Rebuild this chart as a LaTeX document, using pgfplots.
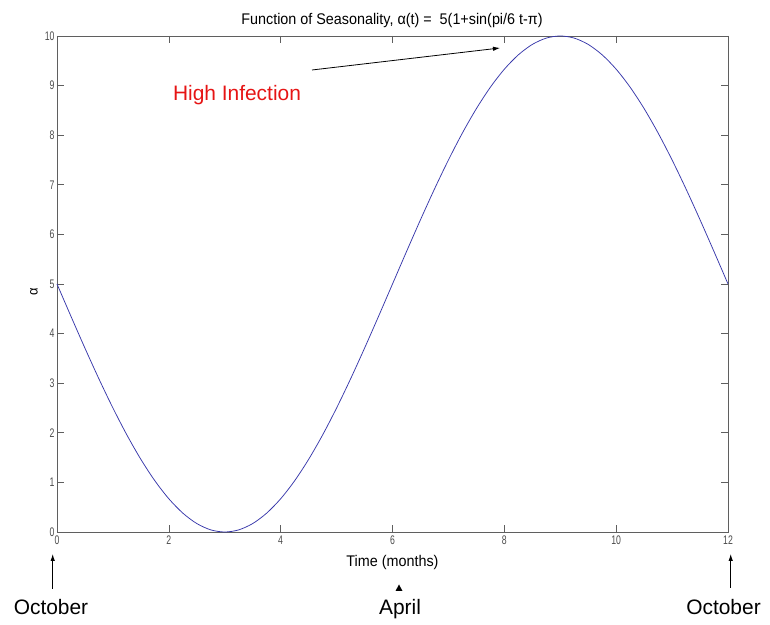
\documentclass[border=0pt]{standalone}
\usepackage{fontspec}
\setmainfont{Liberation Sans}
\newfontfamily\narrowfont[FakeStretch=0.93]{Liberation Sans}
\newfontfamily\ticknarrow[FakeStretch=0.7]{Liberation Sans}
\usepackage{pgfplots}
\pgfplotsset{compat=1.18}
\usetikzlibrary{arrows.meta}
\definecolor{curveblue}{RGB}{55,55,170}
\definecolor{axgray}{RGB}{95,95,95}
\definecolor{hired}{RGB}{230,20,20}
\begin{document}
\begin{tikzpicture}[x=1bp,y=1bp]
\path[use as bounding box] (0,0) rectangle (770,625);
\begin{axis}[
  at={(57bp,93bp)}, anchor=south west,
  scale only axis, width=671bp, height=496bp,
  xmin=0, xmax=12, ymin=0, ymax=10,
  xtick={0,2,4,6,8,10,12},
  ytick={0,1,2,3,4,5,6,7,8,9,10},
  tick align=inside,
  major tick length=7bp,
  axis line style={axgray, line width=0.7bp},
  every tick/.style={axgray, line width=0.6bp},
  /pgf/number format/assume math mode=true,
  ticklabel style={font=\ticknarrow\fontsize{12.5}{12.5}\selectfont, text=black!70},
  yticklabel style={xshift=1bp},
  xticklabel style={yshift=0bp},
  xlabel={Time (months)},
  xlabel style={at={(axis description cs:0.5,0)}, anchor=base, yshift=-35bp, font=\narrowfont\fontsize{15.5}{16}\selectfont},
  ylabel={α},
  ylabel style={at={(axis description cs:-0.0343,0.4839)}, anchor=center, font=\narrowfont\fontsize{14}{14}\selectfont},
  clip=false,
]
\addplot[curveblue, line width=0.75bp, smooth] coordinates {
(0,5) (0.25,4.3474) (0.5,3.7059) (0.75,3.0866) (1,2.5) (1.25,1.9562)
(1.5,1.4645) (1.75,1.0332) (2,0.6699) (2.25,0.3806) (2.5,0.1704) (2.75,0.0428)
(3,0) (3.25,0.0428) (3.5,0.1704) (3.75,0.3806) (4,0.6699) (4.25,1.0332)
(4.5,1.4645) (4.75,1.9562) (5,2.5) (5.25,3.0866) (5.5,3.7059) (5.75,4.3474)
(6,5) (6.25,5.6526) (6.5,6.2941) (6.75,6.9134) (7,7.5) (7.25,8.0438)
(7.5,8.5355) (7.75,8.9668) (8,9.3301) (8.25,9.6194) (8.5,9.8296) (8.75,9.9572)
(9,10) (9.25,9.9572) (9.5,9.8296) (9.75,9.6194) (10,9.3301) (10.25,8.9668)
(10.5,8.5355) (10.75,8.0438) (11,7.5) (11.25,6.9134) (11.5,6.2941) (11.75,5.6526)
(12,5)
};
\end{axis}
% title
\node[anchor=base, font=\narrowfont\fontsize{15.5}{16}\selectfont] at (392,600.5)
  {Function of Seasonality, α(t) =\ \ 5(1+sin(pi/6 t-π)};
% annotation
\node[anchor=base, text=hired, font=\fontsize{21}{21}\selectfont] at (237,524.5) {High Infection};
\draw[black, line width=0.8bp, -{Latex[length=7bp,width=4.5bp]}] (312,555) -- (500,577);
% month markers
\draw[black, line width=0.8bp, -{Latex[length=7bp,width=4.5bp]}] (52.7,36) -- (52.7,71);
\draw[black, line width=0.8bp, -{Latex[length=7bp,width=4.5bp]}] (730.7,37) -- (730.7,71);
\fill[black] (395.5,34) -- (402.5,34) -- (399,40.5) -- cycle;
\node[anchor=base, font=\fontsize{21}{21}\selectfont] at (51,10) {October};
\node[anchor=base, font=\fontsize{21}{21}\selectfont] at (400,10) {April};
\node[anchor=base, font=\fontsize{21}{21}\selectfont] at (723.5,10) {October};
\end{tikzpicture}
\end{document}
